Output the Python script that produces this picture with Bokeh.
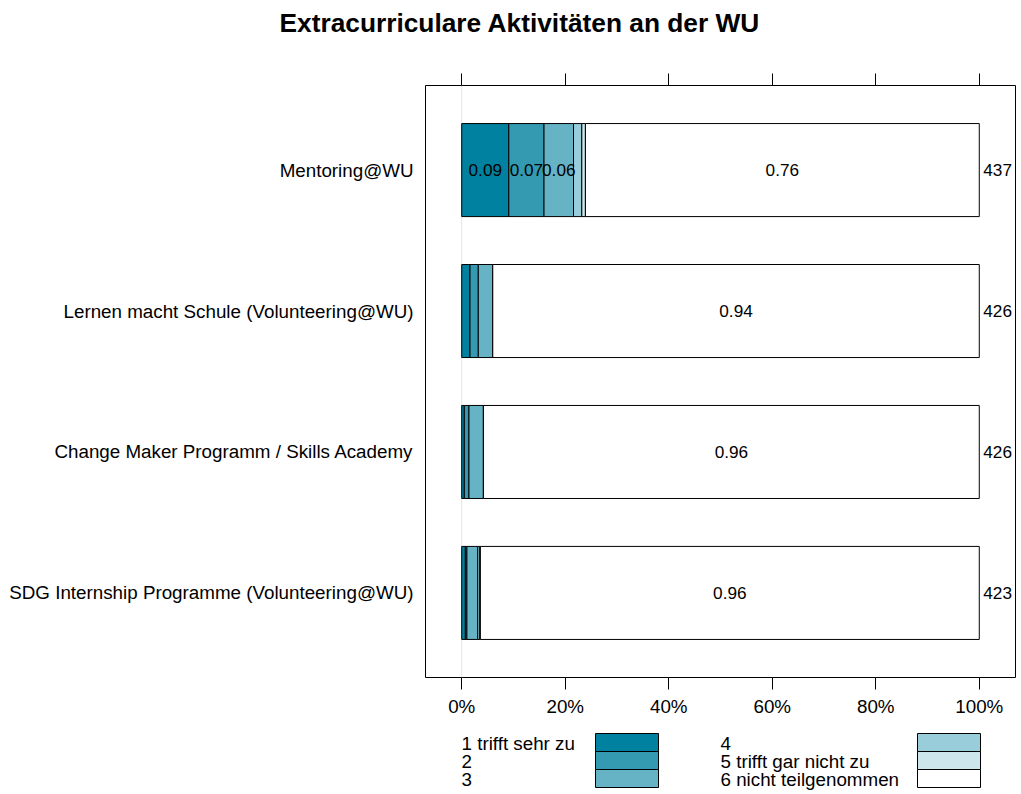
from bokeh.plotting import figure
from bokeh.models import (Range1d, FixedTicker, NumeralTickFormatter, LinearAxis,
                          Span, Title, ColumnDataSource)
from bokeh.layouts import column
from bokeh.core.properties import value
from bokeh.embed import file_html
from bokeh.resources import INLINE

# ---------------- data ----------------
title = "Extracurriculare Aktivitäten an der WU"
items = ["Mentoring@WU",
         "Lernen macht Schule (Volunteering@WU)",
         "Change Maker Programm / Skills Academy",
         "SDG Internship Programme (Volunteering@WU)"]
n_resp = [437, 426, 426, 423]
levels = ["1 trifft sehr zu", "2", "3", "4", "5 trifft gar nicht zu", "6 nicht teilgenommen"]
colors = ["#00819F", "#339AB2", "#66B3C5", "#99CDD9", "#CCE6EC", "#FFFFFF"]
# share of answers per level (rows = items, columns = levels)
shares = [
    [0.091, 0.068, 0.057, 0.016, 0.007, 0.761],
    [0.016, 0.016, 0.028, 0.000, 0.000, 0.940],
    [0.005, 0.009, 0.028, 0.000, 0.000, 0.958],
    [0.007, 0.003, 0.021, 0.004, 0.001, 0.964],
]
x_ticks = [0, 0.2, 0.4, 0.6, 0.8, 1.0]

FONT = "Liberation Sans"
FS = "18.8px"
FS_IN = "17.2px"

W = 1021
FL, FR, FT, FB = 425, 1015, 85, 677   # frame edges in page pixels
T = 44                                 # height of the title strip

# ---------------- title strip ----------------
tf = figure(width=W, height=T, x_range=Range1d(FL, FR), y_range=Range1d(0, 1),
            output_backend="svg", toolbar_location=None, x_axis_type=None, y_axis_type=None,
            min_border_left=FL, min_border_right=W - FR, min_border_top=0, min_border_bottom=0)
tf.grid.visible = False
tf.outline_line_color = None
tf.border_fill_color = "white"
tf.background_fill_color = "white"
tf.add_layout(Title(text=title, align="left", offset=279 - FL, standoff=10,
                    text_font=FONT, text_font_size="26.3px", text_font_style="bold",
                    text_color="black"), "above")

# ---------------- main figure ----------------
H = 726 - T
p = figure(width=W, height=H, x_range=Range1d(-0.07, 1.07), y_range=Range1d(0.4, 4.6),
           output_backend="svg", toolbar_location=None,
           min_border_left=FL, min_border_right=W - FR, min_border_top=FT - T,
           min_border_bottom=H - (FB - T))
p.grid.visible = False
p.outline_line_color = "black"
p.outline_line_width = 1
p.background_fill_color = "white"
p.border_fill_color = "white"

# y positions: first item at top
ypos = {name: len(items) - i for i, name in enumerate(items)}

p.add_layout(Span(location=0, dimension="height", line_color="#e4e4e4", line_width=1,
                  level="underlay"))

left, right, ys, fills = [], [], [], []
tx, ty, tt = [], [], []
for i, name in enumerate(items):
    cum = 0.0
    for j, s in enumerate(shares[i]):
        left.append(cum)
        right.append(cum + s)
        ys.append(ypos[name])
        fills.append(colors[j])
        if s >= 0.05:
            tx.append(cum + s / 2)
            ty.append(ypos[name])
            tt.append("%.2f" % s)
        cum += s

src = ColumnDataSource(dict(left=left, right=right, y=ys, fill=fills))
p.hbar(y="y", left="left", right="right", height=0.66, fill_color="fill",
       line_color="black", line_width=1, source=src)

p.text(x=tx, y=ty, text=tt, text_align="center", text_baseline="middle",
       text_font=value(FONT), text_font_size=FS_IN, text_color="black")

p.text(x=[1.0] * len(items), y=[ypos[n] for n in items], text=[str(v) for v in n_resp],
       x_offset=4, text_align="left", text_baseline="middle",
       text_font=value(FONT), text_font_size=FS_IN, text_color="black")

# x axes
for ax in p.xaxis:
    ax.ticker = FixedTicker(ticks=x_ticks)
    ax.formatter = NumeralTickFormatter(format="0%")
    ax.axis_line_color = None
    ax.major_tick_out = 12
    ax.major_tick_in = 0
    ax.minor_tick_line_color = None
    ax.major_tick_line_color = "black"
    ax.major_label_standoff = 6
    ax.major_label_text_font = FONT
    ax.major_label_text_font_size = FS
    ax.major_label_text_color = "black"

top_ax = LinearAxis(ticker=FixedTicker(ticks=x_ticks), axis_line_color=None,
                    major_tick_out=12, major_tick_in=0, minor_tick_line_color=None,
                    major_tick_line_color="black", major_label_text_color=None,
                    major_label_text_font_size="1px", major_label_standoff=0)
p.add_layout(top_ax, "above")

# y axis
for ax in p.yaxis:
    ax.ticker = FixedTicker(ticks=[ypos[n] for n in items])
    ax.major_label_overrides = {ypos[n]: n for n in items}
    ax.axis_line_color = None
    ax.major_tick_line_color = None
    ax.minor_tick_line_color = None
    ax.major_label_standoff = 6
    ax.major_label_text_font = FONT
    ax.major_label_text_font_size = FS
    ax.major_label_text_color = "black"

# ---------------- legend figure ----------------
LH = 794 - 726
lg = figure(width=W, height=LH, x_range=Range1d(FL, FR), y_range=Range1d(LH, 0),
            output_backend="svg", toolbar_location=None, x_axis_type=None, y_axis_type=None,
            min_border_left=FL, min_border_right=W - FR, min_border_top=0, min_border_bottom=0)
lg.grid.visible = False
lg.outline_line_color = None
lg.border_fill_color = "white"
lg.background_fill_color = "white"

row_h = 18
col_text_x = [461, 720]
col_box_x = [595, 917]
box_w = 63
top0 = 733 - 726
ql, qr, qt, qb, qc = [], [], [], [], []
lx, ly, lt = [], [], []
for k, lab in enumerate(levels):
    c, r = divmod(k, 3)
    ql.append(col_box_x[c]); qr.append(col_box_x[c] + box_w)
    qt.append(top0 + r * row_h); qb.append(top0 + (r + 1) * row_h)
    qc.append(colors[k])
    lx.append(col_text_x[c]); ly.append(top0 + r * row_h + row_h / 2 + 1); lt.append(lab)

lg.quad(left=ql, right=qr, top=qt, bottom=qb, fill_color=qc, line_color="black", line_width=1)
lg.text(x=lx, y=ly, text=lt, text_align="left", text_baseline="middle",
        text_font=value(FONT), text_font_size=FS, text_color="black")

layout = column(tf, p, lg, spacing=0)
open("out.html", "w").write(file_html(layout, INLINE))
